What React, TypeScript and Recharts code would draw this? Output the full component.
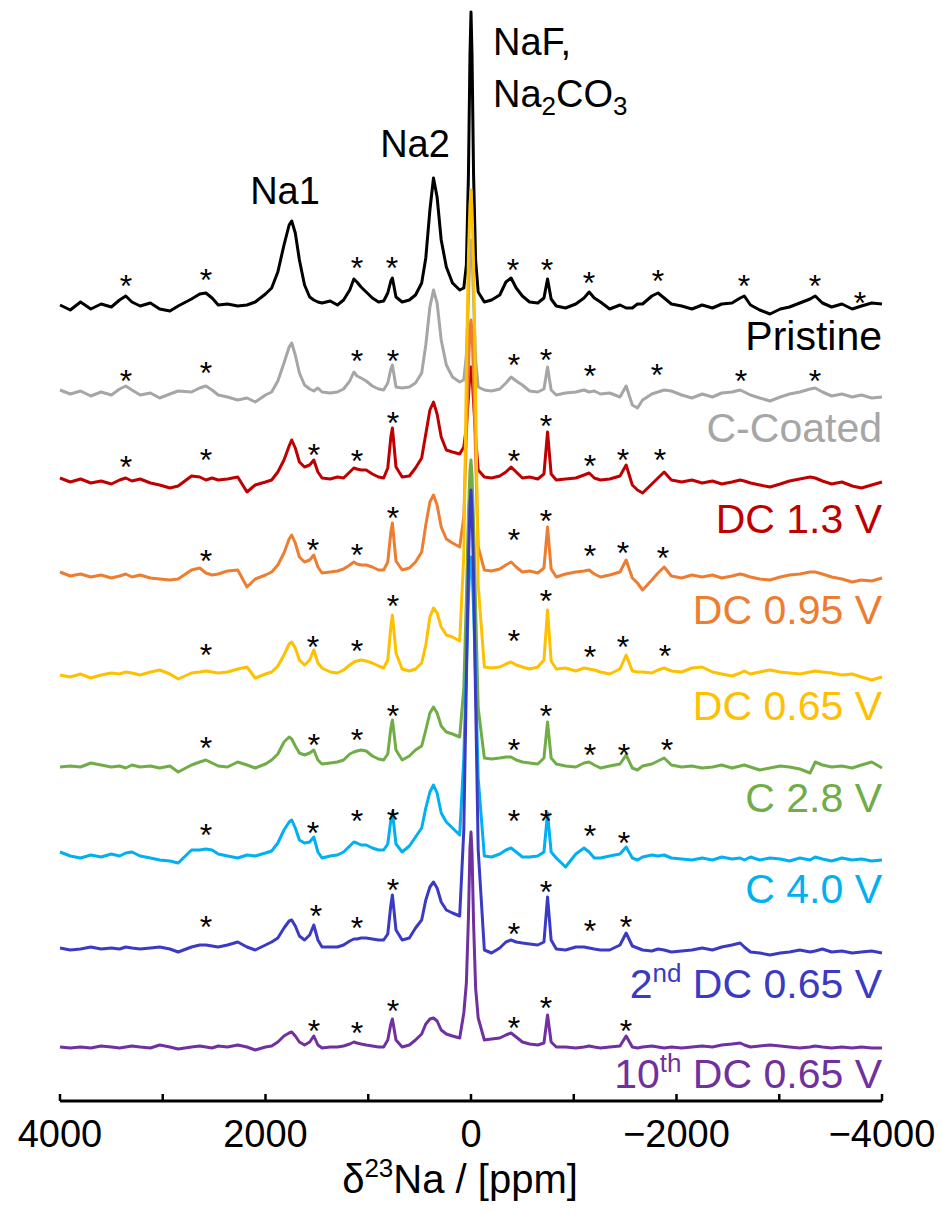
import React from 'react'
import { ComposedChart, Line, Scatter, XAxis, YAxis } from 'recharts'

// chemical shift grid (ppm), shared by all spectra
const PPM = [
  4000, 3900, 3800, 3700, 3600, 3500, 3420, 3360, 3300, 3220,
  3120, 3030, 2930, 2850, 2720, 2640, 2580, 2520, 2460, 2370,
  2270, 2180, 2100, 2000, 1940, 1880, 1820, 1770, 1745, 1710,
  1670, 1620, 1570, 1530, 1490, 1450, 1370, 1300, 1240, 1180,
  1140, 1110, 1070, 1020, 960, 900, 850, 810, 780, 765,
  730, 670, 600, 540, 480, 440, 400, 365, 330, 290,
  240, 180, 110, 70, 45, 25, 10, 0, -10, -25, -45, -70,
  -130, -200, -280, -340, -390, -440, -500, -570, -650, -710,
  -745, -780, -830, -920, -1020, -1100, -1150, -1200, -1260, -1350,
  -1450, -1510, -1570, -1620, -1670, -1760, -1820, -1880, -1950, -2050,
  -2150, -2250, -2350, -2440, -2540, -2620, -2660, -2720, -2810, -2910,
  -3010, -3100, -3200, -3300, -3350, -3420, -3510, -3610, -3710, -3800,
  -3900, -4000,
]

// intensities above each trace's own baseline
const PRISTINE = [
  0, -5, 3, -4, 1, -2, 5, 9, 3, -1,
  2, -4, -6, -1, 6, 11, 12, 7, 0, 1,
  -1, 0, 3, 11, 17, 33, 60, 80, 84, 72,
  45, 20, 8, 5, 3, 2, 4, 0, 5, 15,
  26, 23, 18, 13, 7, 3, 4, 12, 24, 27,
  8, 3, 5, 10, 22, 47, 95, 127, 108, 65,
  38, 22, 15, 17, 40, 130, 250, 293, 250, 130, 45, 13,
  3, 5, 10, 23, 27, 17, 9, 3, 2, 7,
  26, 6, -1, -3, 1, 7, 13, 7, 3, -4,
  0, -3, -3, 1, 1, 9, 12, 7, 1, -1,
  -4, 0, -3, 1, 2, 7, 9, 0, -5, -9,
  -4, -2, 2, 6, 9, 2, -2, 1, -4, -1,
  2, 1,
]
const C_COATED = [
  5, 1, 4, -1, 3, 0, 6, 9, 5, 0,
  2, -3, 1, 4, 3, 7, 9, 5, 0, -2,
  -5, -3, -7, 0, 3, 14, 32, 48, 52, 40,
  22, 10, 6, 4, 7, 3, 2, 3, 6, 14,
  23, 19, 17, 14, 9, 6, 5, 12, 26, 30,
  8, 7, 8, 12, 22, 50, 88, 105, 92, 55,
  30, 18, 13, 15, 40, 95, 145, 155, 145, 95, 35, 8,
  5, 4, 6, 12, 18, 14, 10, 4, 3, 6,
  28, 5, 0, 2, 3, 5, 3, 4, 1, 2,
  -2, 9, -10, -13, -5, 1, 3, 5, 4, 0,
  -3, 1, -2, 2, 3, 5, 3, 0, -3, -6,
  -2, 1, 3, 6, 7, 3, -1, 1, -2, 0,
  -3, -2,
]
const DC_1_3 = [
  4, 0, 3, -1, 1, -2, 2, 4, 1, 3,
  -1, -3, -6, -4, 6, 5, 2, 4, 2, 3,
  5, -10, -3, 0, 2, 10, 22, 36, 42, 34,
  20, 15, 17, 22, 10, 4, 3, 5, 4, 10,
  14, 13, 12, 12, 8, 5, 4, 14, 45, 54,
  15, 5, 6, 14, 24, 48, 72, 80, 68, 45,
  32, 30, 28, 35, 55, 85, 110, 115, 108, 80, 45, 12,
  5, 4, 6, 10, 15, 10, 4, 5, 3, 8,
  50, 8, 2, 3, 4, 7, 9, 4, 2, 3,
  6, 17, -3, -8, -11, -2, 4, 10, 2, 0,
  2, -1, 1, -2, 0, 2, 1, -1, -3, -5,
  -2, 1, 3, 5, 4, 1, -2, 0, -4, -6,
  -3, 0,
]
const DC_0_95 = [
  5, 1, 3, 0, 2, -1, 1, 3, 0, 2,
  -1, -2, -3, -2, 7, 9, 4, 2, 3, 6,
  7, -10, -2, 2, 5, 12, 24, 38, 42, 34,
  20, 15, 17, 22, 10, 4, 5, 6, 8, 12,
  15, 13, 12, 12, 10, 7, 7, 15, 45, 54,
  16, 7, 9, 15, 25, 52, 75, 82, 72, 50,
  38, 34, 30, 60, 140, 210, 250, 257, 245, 200, 120, 30,
  7, 6, 8, 12, 15, 10, 5, 6, 4, 9,
  50, 8, 0, 3, 5, 6, 7, 3, 0, 2,
  5, 17, -1, -6, -13, -3, 4, 10, 1, -1,
  2, 0, 2, -1, 1, 3, 2, 0, -2, -3,
  0, 2, 3, 5, 5, 3, 0, -2, -5, -3,
  -4, -1,
]
const DC_0_65 = [
  0, -2, 1, -3, 0, 2, 1, 3, 2, 0,
  3, 5, 1, -4, 2, 3, 4, 3, 2, 3,
  6, 8, -3, 1, 3, 9, 20, 31, 33, 27,
  15, 10, 15, 25, 12, 7, 3, 2, 5, 10,
  13, 14, 15, 14, 12, 9, 7, 15, 48, 60,
  22, 6, 4, 6, 12, 30, 58, 67, 62, 48,
  40, 38, 34, 120, 300, 420, 470, 485, 465, 410, 280, 90,
  8, 7, 8, 11, 13, 10, 8, 6, 8, 15,
  65, 14, 6, 7, 4, 7, 6, 5, 3, 1,
  6, 20, 4, 3, 3, 2, 5, 7, 4, 3,
  7, 8, 3, 1, -1, 2, 4, 1, 3, 5,
  3, 2, 1, 3, 4, 3, 2, 0, 1, -2,
  -5, -2,
]
const C_2_8 = [
  1, 2, 1, 5, 3, 1, 2, 0, 3, 1,
  2, 0, 2, -4, 3, 6, 8, 5, 2, 1,
  6, 3, 0, 4, 8, 14, 26, 31, 29, 22,
  15, 13, 15, 18, 8, 4, 5, 6, 8, 14,
  16, 17, 18, 17, 12, 9, 8, 14, 40, 48,
  18, 8, 12, 18, 22, 38, 55, 61, 55, 42,
  36, 34, 31, 80, 170, 255, 298, 308, 292, 245, 160, 60,
  10, 9, 10, 11, 11, 8, 6, 5, 4, 10,
  46, 10, 4, 2, 1, 5, 6, 3, 0, 2,
  4, 13, 0, -2, 2, 4, 7, 10, 3, 1,
  2, 0, 1, 3, 0, 2, 3, 1, -2, 0,
  2, 1, -1, -5, 6, 3, 1, 2, 0, 3,
  6, 0,
]
const C_4_0 = [
  6, 2, 0, 3, 1, 4, 2, 5, 6, 2,
  0, -2, -3, -5, 8, 8, 9, 8, 4, 2,
  0, 3, 2, 5, 7, 15, 28, 36, 38, 30,
  18, 15, 16, 21, 6, 0, 2, 3, 6, 12,
  16, 15, 13, 13, 10, 8, 8, 14, 38, 46,
  14, 6, 12, 21, 30, 50, 66, 73, 65, 45,
  36, 30, 23, 100, 190, 260, 295, 301, 290, 250, 180, 80,
  2, 1, 4, 8, 10, 6, 1, 1, 2, 6,
  45, 6, 0, -9, 4, 10, 6, 0, 0, 2,
  4, 11, 0, -2, 1, 3, 2, 3, 0, -1,
  -2, 0, -2, 1, -1, 0, -2, 1, -2, 0,
  -1, -3, 0, -2, 1, -1, -3, 0, -2, -1,
  -3, -2,
]
const DC2_0_65 = [
  2, 0, 1, 3, 1, 2, 1, 3, 2, 1,
  2, 3, 1, -2, 3, 5, 5, 4, 3, 5,
  8, 3, 0, 5, 8, 12, 22, 29, 30, 24,
  14, 10, 15, 25, 10, 3, 3, 3, 5, 9,
  11, 11, 12, 12, 11, 10, 10, 16, 45, 55,
  20, 10, 12, 22, 30, 50, 63, 68, 62, 48,
  40, 37, 34, 120, 270, 385, 445, 460, 440, 375, 250, 100,
  0, -3, 2, 8, 10, 8, 7, 6, 5, 8,
  53, 10, 1, 0, 3, 3, 2, 1, 0, 0,
  5, 17, 4, 2, 0, -1, 1, 0, -2, -1,
  0, 2, 0, 3, 5, 7, 3, -2, -3, -5,
  -3, -2, 0, -2, -1, 1, -2, -1, -3, -2,
  -1, -3,
]
const DC10_0_65 = [
  1, 0, 1, 0, 2, 1, 0, 1, 2, 1,
  0, 3, 1, -1, 1, 2, 1, 0, 2, 1,
  3, 1, -2, 1, 2, 6, 12, 15, 16, 12,
  6, 3, 6, 12, 3, 0, 1, 1, 2, 4,
  6, 5, 4, 3, 2, 1, 1, 8, 24, 29,
  8, 1, 3, 8, 14, 24, 29, 30, 27, 18,
  14, 12, 10, 35, 65, 130, 200, 216, 195, 125, 60, 30,
  8, 9, 10, 13, 15, 11, 6, 4, 3, 5,
  33, 6, 1, 1, 0, 1, 2, 1, 0, 1,
  2, 12, 1, 0, 1, 2, 1, 0, 1, 0,
  1, 2, 1, 3, 4, 5, 3, 1, 2, 3,
  2, 1, 0, 1, 2, 1, 0, 1, 0, 1,
  0, 0,
]

// spinning sidebands marked with asterisks (ppm, height above baseline)
const PRISTINE_SSB = [3358, 2579, 1110, 769, -409, -739, -1148, -1820, -2657, -3348, -3786]
const PRISTINE_SSB_H = [27, 33, 45, 45, 43, 43, 30, 32, 27, 27, 10]
const C_COATED_SSB = [3358, 2579, 1110, 759, -418, -730, -1158, -1810, -2628, -3348]
const C_COATED_SSB_H = [22, 30, 42, 42, 38, 43, 27, 28, 22, 22]
const DC_1_3_SSB = [3358, 2579, 1528, 1110, 759, -418, -730, -1158, -1479, -1839]
const DC_1_3_SSB_H = [23, 30, 35, 29, 67, 29, 64, 24, 30, 30]
const DC_0_95_SSB = [2579, 1538, 1110, 759, -418, -730, -1158, -1479, -1868]
const DC_0_95_SSB_H = [24, 35, 30, 67, 45, 64, 29, 32, 27]
const DC_0_65_SSB = [2579, 1538, 1110, 759, -418, -730, -1158, -1479, -1888]
const DC_0_65_SSB_H = [28, 36, 32, 77, 42, 82, 26, 36, 27]
const C_2_8_SSB = [2579, 1528, 1110, 759, -418, -730, -1158, -1489, -1907]
const C_2_8_SSB_H = [28, 31, 36, 60, 26, 60, 21, 21, 26]
const C_4_0_SSB = [2579, 1538, 1110, 759, -418, -730, -1158, -1489]
const C_4_0_SSB_H = [31, 33, 45, 46, 45, 45, 30, 23]
const DC2_SSB = [2579, 1509, 1110, 759, -418, -730, -1158, -1508]
const DC2_SSB_H = [31, 42, 30, 68, 24, 66, 27, 31]
const DC10_SSB = [1528, 1110, 759, -418, -730, -1508]
const DC10_SSB_H = [25, 23, 45, 28, 48, 25]

const X_TICKS = [4000, 3000, 2000, 1000, 0, -1000, -2000, -3000, -4000]

const FONT = '"Liberation Sans", Arial, Helvetica, sans-serif'
const AXIS_Y = 1101

// base = vertical stacking offset, labelY = baseline of the right-hand label
const SERIES = [
  { key: 'pristine', label: 'Pristine', color: '#000000', base: 796, labelY: 350, values: PRISTINE, ssb: PRISTINE_SSB, ssbH: PRISTINE_SSB_H },
  { key: 'cCoated', label: 'C-Coated', color: '#a6a6a6', base: 706, labelY: 442, values: C_COATED, ssb: C_COATED_SSB, ssbH: C_COATED_SSB_H },
  { key: 'dc13', label: 'DC 1.3 V', color: '#c00000', base: 619, labelY: 533, values: DC_1_3, ssb: DC_1_3_SSB, ssbH: DC_1_3_SSB_H },
  { key: 'dc095', label: 'DC 0.95 V', color: '#ed7d31', base: 524, labelY: 624, values: DC_0_95, ssb: DC_0_95_SSB, ssbH: DC_0_95_SSB_H },
  { key: 'dc065', label: 'DC 0.65 V', color: '#ffc000', base: 426, labelY: 720, values: DC_0_65, ssb: DC_0_65_SSB, ssbH: DC_0_65_SSB_H },
  { key: 'c28', label: 'C 2.8 V', color: '#70ad47', base: 333, labelY: 812, values: C_2_8, ssb: C_2_8_SSB, ssbH: C_2_8_SSB_H },
  { key: 'c40', label: 'C 4.0 V', color: '#00b0f0', base: 243, labelY: 903, values: C_4_0, ssb: C_4_0_SSB, ssbH: C_4_0_SSB_H },
  { key: 'dc2', label: '2', sup: 'nd', rest: ' DC 0.65 V', color: '#3a3ac4', base: 151, labelY: 998, values: DC2_0_65, ssb: DC2_SSB, ssbH: DC2_SSB_H },
  { key: 'dc10', label: '10', sup: 'th', rest: ' DC 0.65 V', color: '#7030a0', base: 53, labelY: 1088, values: DC10_0_65, ssb: DC10_SSB, ssbH: DC10_SSB_H },
]

const rows = PPM.map((ppm, i) => {
  const row: Record<string, number> = { ppm }
  SERIES.forEach(s => { row[s.key] = s.base + s.values[i] })
  return row
})

const stars = SERIES.flatMap(s => s.ssb.map((p, i) => ({ ppm: p, y: s.base + s.ssbH[i] })))

const fmtTick = (v: number) => (v < 0 ? '\u2212' + Math.abs(v) : String(v))

const AxisTick = (props: any) => {
  const { x, y, payload } = props
  const v = payload.value
  return (
    <g>
      <line x1={x} x2={x} y1={y} y2={y - 7} stroke="#000" strokeWidth={2.5} />
      {v % 2000 === 0 && (
        <text x={x} y={y + 46} textAnchor="middle" fontSize={38} fontFamily={FONT} fill="#000">
          {fmtTick(v)}
        </text>
      )}
    </g>
  )
}

// the "*" glyph sits high in the em box, so drop the baseline below the point
const Asterisk = (props: any) => (
  <text x={props.cx} y={props.cy + 19} textAnchor="middle" fontSize={32} fontFamily={FONT} fill="#000">*</text>
)

export default function App() {
  return (
    <div style={{ position: 'absolute', left: 0, top: 0, width: 943, height: 1215, background: '#fff' }}>
      <ComposedChart width={943} height={1215} data={rows} margin={{ top: 0, right: 61, bottom: 0, left: 60 }}>
        <XAxis
          dataKey="ppm"
          type="number"
          domain={[-4000, 4000]}
          reversed
          ticks={X_TICKS}
          interval={0}
          height={1215 - AXIS_Y}
          axisLine={{ stroke: '#000', strokeWidth: 3 }}
          tickLine={false}
          tickSize={0}
          tickMargin={0}
          tick={<AxisTick />}
        />
        <YAxis hide type="number" domain={[0, AXIS_Y]} />
        {SERIES.map(s => (
          <Line
            key={s.key}
            dataKey={s.key}
            type="linear"
            stroke={s.color}
            strokeWidth={3}
            strokeLinejoin="round"
            dot={false}
            activeDot={false}
            isAnimationActive={false}
          />
        ))}
        <Scatter data={stars} dataKey="y" shape={<Asterisk />} isAnimationActive={false} />
      </ComposedChart>
      <svg width={943} height={1215} style={{ position: 'absolute', left: 0, top: 0, pointerEvents: 'none' }}>
        <g fontFamily={FONT} fill="#000">
          <text x={285} y={204} textAnchor="middle" fontSize={38}>Na1</text>
          <text x={415} y={157} textAnchor="middle" fontSize={38}>Na2</text>
          <text x={493} y={55} fontSize={38}>NaF,</text>
          <text x={493} y={107} fontSize={38}>
            Na<tspan fontSize={26} dy={8}>2</tspan><tspan dy={-8}>CO</tspan><tspan fontSize={26} dy={8}>3</tspan>
          </text>
          <text x={460} y={1193} textAnchor="middle" fontSize={40}>
            δ<tspan fontSize={26} dy={-16}>23</tspan><tspan dy={16}>Na / [ppm]</tspan>
          </text>
        </g>
        {SERIES.map(s => (
          <text key={s.key} x={882} y={s.labelY} textAnchor="end" fontSize={41} fontFamily={FONT} fill={s.color}>
            {s.label}
            {s.sup && <tspan fontSize={26} dy={-16}>{s.sup}</tspan>}
            {s.rest && <tspan dy={16}>{s.rest}</tspan>}
          </text>
        ))}
      </svg>
    </div>
  )
}
